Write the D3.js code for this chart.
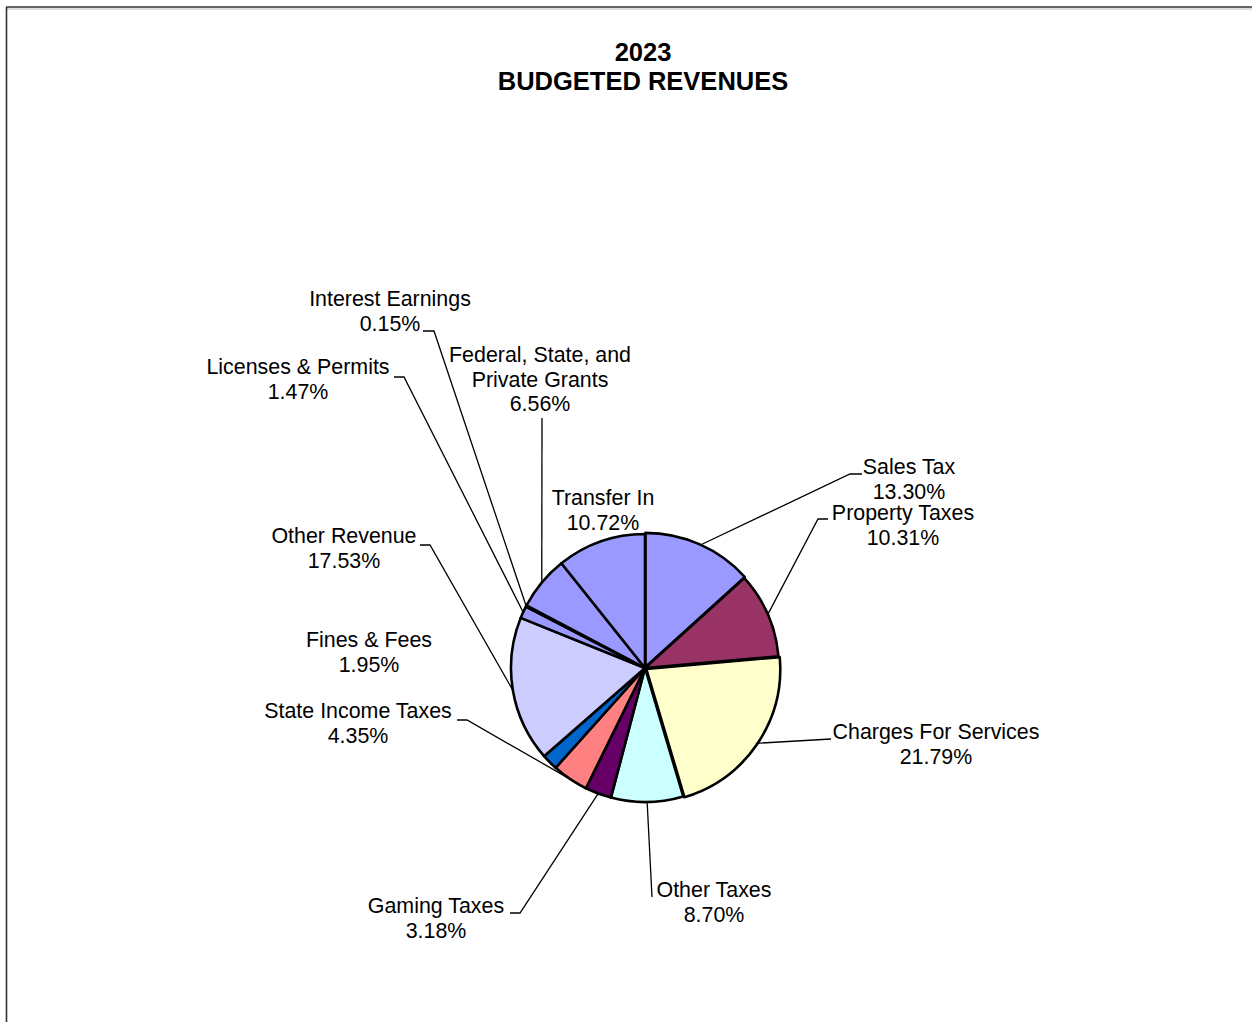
<!DOCTYPE html>
<html>
<head>
<meta charset="utf-8">
<script src="https://cdn.jsdelivr.net/npm/d3@7"></script>
<style>
  html, body { margin: 0; padding: 0; background: #fff; }
  svg { display: block; font-family: "Liberation Sans", Arial, sans-serif; }
</style>
</head>
<body>
<svg id="chart" width="1252" height="1022"></svg>
<script>
// Revenue categories, clockwise from 12 o'clock
const categories = [
  "Sales Tax", "Property Taxes", "Charges For Services", "Other Taxes",
  "Gaming Taxes", "State Income Taxes", "Fines & Fees", "Other Revenue",
  "Licenses & Permits", "Interest Earnings", "Federal, State, and Private Grants",
  "Transfer In"
];
// Share of budgeted revenue, percent
const shares = [13.30, 10.31, 21.79, 8.70, 3.18, 4.35, 1.95, 17.53, 1.47, 0.15, 6.56, 10.72];
const sliceColors = [
  "#9999FF", "#993366", "#FFFFCC", "#CCFFFF", "#660066", "#FF8080",
  "#0066CC", "#CCCCFF", "#9999FF", "#9999FF", "#9999FF", "#9999FF"
];
// How each category name is broken into lines
const labelLines = [
  ["Sales Tax"], ["Property Taxes"], ["Charges For Services"], ["Other Taxes"],
  ["Gaming Taxes"], ["State Income Taxes"], ["Fines & Fees"], ["Other Revenue"],
  ["Licenses & Permits"], ["Interest Earnings"], ["Federal, State, and", "Private Grants"],
  ["Transfer In"]
];
const titleLines = ["2023", "BUDGETED REVENUES"];

// ---- layout ----
const cx = 645, cy = 668, radius = 134;
const lineH = 24.5;
// label block centre x, first baseline y, and the leader path start (null = no leader)
const labelLayout = {
  "Sales Tax":            { x: 909, y: 474, leader: [[862, 474], [850, 474]] },
  "Property Taxes":       { x: 903, y: 520, leader: [[828, 519], [818, 519]] },
  "Charges For Services": { x: 936, y: 739, leader: [[831, 739]] },
  "Other Taxes":          { x: 714, y: 897, leader: [[652, 897]] },
  "Gaming Taxes":         { x: 436, y: 913, leader: [[510, 913], [520, 913]] },
  "State Income Taxes":   { x: 358, y: 718, leader: [[457, 720], [467, 720]] },
  "Fines & Fees":         { x: 369, y: 647, leader: null },
  "Other Revenue":        { x: 344, y: 543, leader: [[420, 545], [430, 545]] },
  "Licenses & Permits":   { x: 298, y: 374, leader: [[394, 377], [404, 377]] },
  "Interest Earnings":    { x: 390, y: 306, leader: [[423, 331], [434, 331]] },
  "Federal, State, and Private Grants": { x: 540, y: 362, leader: [[542, 418]] },
  "Transfer In":          { x: 603, y: 505, leader: null }
};
// small outward offsets of slices that sit slightly apart
const explode = { "Charges For Services": 1.5, "Sales Tax": 1.2 };

const svg = d3.select("#chart");

// frame
svg.append("line").attr("x1", 6).attr("y1", 9).attr("x2", 1252).attr("y2", 9)
  .attr("stroke", "#d0d0d0").attr("stroke-width", 1.5);
svg.append("line").attr("x1", 6).attr("y1", 7).attr("x2", 1252).attr("y2", 7)
  .attr("stroke", "#333").attr("stroke-width", 1.6);
svg.append("line").attr("x1", 6.5).attr("y1", 7).attr("x2", 6.5).attr("y2", 1022)
  .attr("stroke", "#333").attr("stroke-width", 1.6);

// title
svg.append("g").selectAll("text").data(titleLines).join("text")
  .attr("x", 643).attr("y", (d, i) => 61 + i * 29)
  .attr("text-anchor", "middle")
  .attr("font-size", 25.5).attr("font-weight", "bold").attr("fill", "#000")
  .text(d => d);

const data = categories.map((c, i) => ({ name: c, value: shares[i], color: sliceColors[i], lines: labelLines[i] }));

const pie = d3.pie().sort(null).value(d => d.value).startAngle(0).endAngle(2 * Math.PI);
const arcs = pie(data);
const arc = d3.arc().innerRadius(0).outerRadius(radius);
const rimArc = d3.arc().innerRadius(radius).outerRadius(radius);

const g = svg.append("g").attr("transform", `translate(${cx},${cy})`);

g.selectAll("path.slice").data(arcs).join("path")
  .attr("class", "slice")
  .attr("transform", d => {
    const off = explode[d.data.name] || 0;
    const a = (d.startAngle + d.endAngle) / 2;
    return `translate(${off * Math.sin(a)},${-off * Math.cos(a)})`;
  })
  .attr("d", arc)
  .attr("fill", d => d.data.color)
  .attr("stroke", "#000")
  .attr("stroke-width", 2.6)
  .attr("stroke-linejoin", "round");

// leader lines from label to the slice's mid-angle on the rim
const leaders = svg.append("g");
arcs.forEach(d => {
  const lay = labelLayout[d.data.name];
  if (!lay.leader) return;
  const [px, py] = rimArc.centroid(d);
  const pts = lay.leader.concat([[cx + px, cy + py]]);
  leaders.append("path")
    .attr("d", d3.line()(pts))
    .attr("fill", "none").attr("stroke", "#000").attr("stroke-width", 1.3);
});

// labels
const fmt = d3.format(".2f");
const labels = svg.append("g");
arcs.forEach(d => {
  const lay = labelLayout[d.data.name];
  const lines = d.data.lines.concat([fmt(d.data.value) + "%"]);
  labels.append("text")
    .attr("text-anchor", "middle")
    .attr("font-size", 21.4).attr("fill", "#000")
    .selectAll("tspan").data(lines).join("tspan")
    .attr("x", lay.x).attr("y", (t, i) => lay.y + i * lineH)
    .text(t => t);
});
</script>
</body>
</html>
